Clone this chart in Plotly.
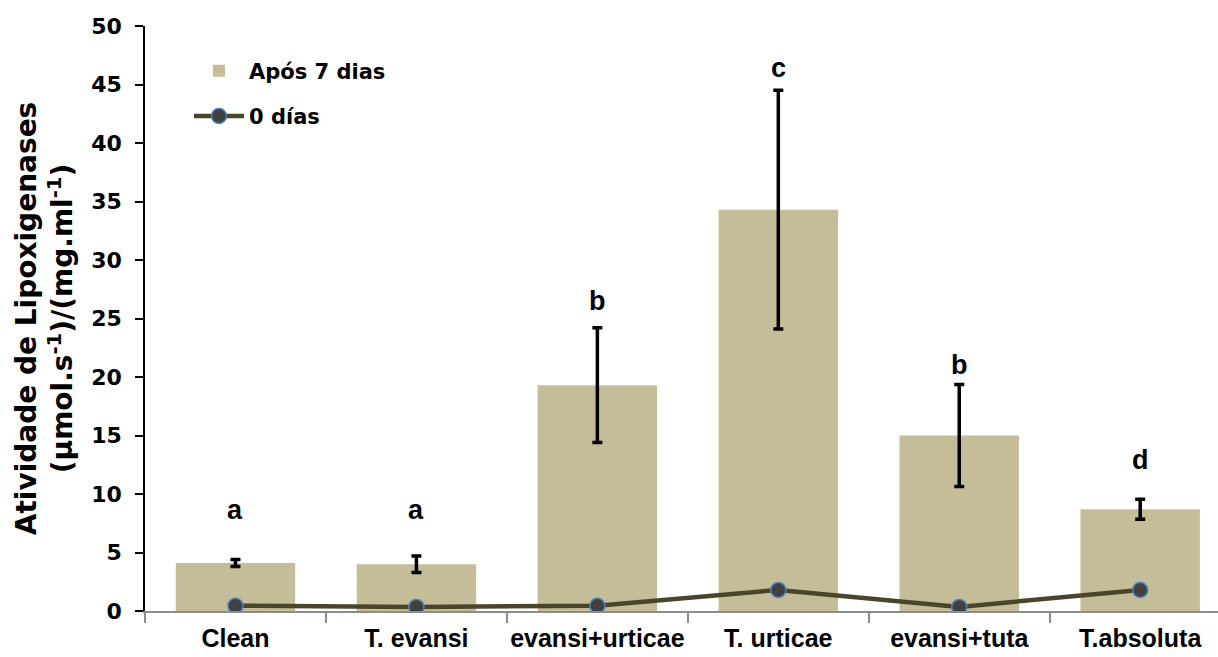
import plotly.graph_objects as go

categories = ["Clean", "T. evansi", "evansi+urticae", "T. urticae", "evansi+tuta", "T.absoluta"]
bars_7d = [4.1, 4.0, 19.3, 34.3, 15.0, 8.7]
err_7d = [0.3, 0.7, 4.9, 10.2, 4.35, 0.85]
line_0d = [0.45, 0.35, 0.45, 1.8, 0.35, 1.8]
letters = ["a", "a", "b", "c", "b", "d"]
letter_y = [8.6, 8.6, 26.5, 46.4, 21.0, 12.9]
y_ticks = [0, 5, 10, 15, 20, 25, 30, 35, 40, 45, 50]

narrow = "Liberation Sans Narrow, Arial Narrow, Liberation Sans, Arial"
heavy = "DejaVu Sans, Arial, sans-serif"

fig = go.Figure()
fig.add_trace(go.Bar(
    x=categories, y=bars_7d, name="Após 7 dias",
    marker=dict(color="#C4BD97", line=dict(width=0)),
    width=0.66,
    error_y=dict(type="data", array=err_7d, color="black", thickness=3.5, width=5),
    legendgroup="a",
))
fig.add_trace(go.Scatter(
    x=categories, y=line_0d, name="0 días", mode="lines+markers",
    line=dict(color="#4A452A", width=4.5),
    marker=dict(color="#404040", size=15, line=dict(color="#4F81BD", width=1.5)),
    legendgroup="b",
))

for c, t, yy in zip(categories, letters, letter_y):
    fig.add_annotation(x=c, y=yy, text=t, showarrow=False,
                       font=dict(family=narrow, size=27, color="black", weight="bold"))

fig.update_layout(
    width=1218, height=657,
    margin=dict(l=145, r=0, t=26, b=46, autoexpand=False),
    plot_bgcolor="white", paper_bgcolor="white",
    showlegend=True,
    legend=dict(x=0.041, y=0.958, xanchor="left", yanchor="top",
                font=dict(family=heavy, size=21, color="black", weight="bold"),
                bgcolor="rgba(0,0,0,0)", traceorder="grouped", tracegroupgap=15,
                itemwidth=50),
    xaxis=dict(
        range=[-0.5, 5.43],
        showline=True, linecolor="#8C8C8C", linewidth=1.5,
        ticks="outside", tickson="boundaries", ticklen=10, tickcolor="#8C8C8C", tickwidth=1.5,
        tickfont=dict(family=narrow, size=25, color="black", weight="bold"),
        tickangle=0, automargin=False,
        ticklabelstandoff=4,
        showgrid=False, zeroline=False,
    ),
    yaxis=dict(
        range=[0, 50], tickvals=y_ticks,
        showline=True, linecolor="black", linewidth=1.5,
        ticks="outside", ticklen=8, tickcolor="black", tickwidth=1.5,
        tickfont=dict(family=heavy, size=22, color="black", weight="bold"),
        ticklabelstandoff=9, automargin=False,
        showgrid=False, zeroline=False,
        title=dict(text="Atividade de Lipoxigenases<br>(µmol.s<sup>-1</sup>)/(mg.ml<sup>-1</sup>)",
                   font=dict(family=heavy, size=28, color="black", weight="bold"), standoff=10),
    ),
)

fig.write_html("out.html", config={"displayModeBar": False},
               post_script="document.body.style.margin='0';")
